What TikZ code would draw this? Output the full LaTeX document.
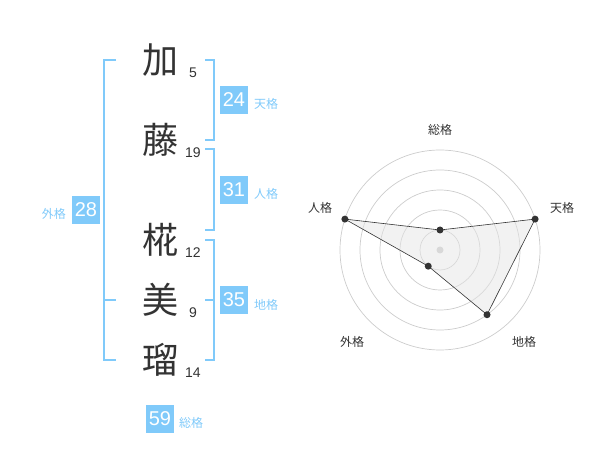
\documentclass[tikz,border=0pt]{standalone}
\usepackage{fontspec}
\setmainfont{Liberation Sans}
\newfontfamily\cjk{Noto Sans CJK JP}
\definecolor{kakublue}{RGB}{128,202,250}
\definecolor{inkgray}{RGB}{51,51,51}
\def\kakubracket(#1:#2:#3){\draw[bracket] (205,#1) -- (214,#1) -- (214,#2) -- (205,#2); \draw[bracket] (205,#3) -- (214,#3);}

\begin{document}
\begin{tikzpicture}[x=1pt,y=-1pt,
		kanji/.style={text=inkgray,font=\cjk\fontsize{36}{36}\selectfont,inner sep=0pt},
		strokes/.style={text=inkgray,font=\fontsize{14}{14}\selectfont,inner sep=0pt},
		kakubox/.style={fill=kakublue,text=white,minimum size=28pt,inner sep=0pt,font=\fontsize{20}{20}\selectfont},
		kakulabel/.style={text=kakublue,font=\cjk\fontsize{12}{12}\selectfont,inner sep=0pt},
		bracket/.style={draw=kakublue,line width=2pt},
		ring/.style={draw=black!20,line width=0.7pt},
		radarlabel/.style={text=inkgray,font=\cjk\fontsize{12}{12}\selectfont,inner sep=0pt},
		radardot/.style={circle,fill=inkgray,inner sep=0pt,minimum size=7pt}]
		%%%%% START %%%%%
		\useasboundingbox (0,0) rectangle (600,470);
		
		\node[kanji] (kka) at (160,60) {加};
		\node[strokes] (nka) at (193,73) {5};
		\node[kanji] (kto) at (160,140) {藤};
		\node[strokes] (nto) at (193,153) {19};
		\node[kanji] (kmo) at (160,240) {椛};
		\node[strokes] (nmo) at (193,253) {12};
		\node[kanji] (kmi) at (160,300) {美};
		\node[strokes] (nmi) at (193,313) {9};
		\node[kanji] (kru) at (160,360) {瑠};
		\node[strokes] (nru) at (193,373) {14};
		
		\draw[bracket] (205,60) -- (214,60) -- (214,140) -- (205,140);
		\draw[bracket] (205,149) -- (214,149) -- (214,230) -- (205,230);
		\kakubracket(240:360:300)
		\draw[bracket] (116,60) -- (104,60) -- (104,360) -- (116,360);
		\draw[bracket] (104,300) -- (116,300);
		
		\node[kakubox] (ten) at (234,100) {24};
		\node[kakulabel,anchor=west] (tenlab) at (254,104) {天格};
		\node[kakubox] (jin) at (234,190) {31};
		\node[kakulabel,anchor=west] (jinlab) at (254,194) {人格};
		\node[kakubox] (chi) at (234,300) {35};
		\node[kakulabel,anchor=west] (chilab) at (254,305) {地格};
		\node[kakubox] (gai) at (86,210) {28};
		\node[kakulabel,anchor=east] (gailab) at (66,214) {外格};
		\node[kakubox] (sou) at (160,419) {59};
		\node[kakulabel,anchor=west] (soulab) at (179,423) {総格};
		
		\begin{scope}[shift={(440,250)}]
			\draw[ring] (0,0) circle (20pt);
			\draw[ring] (0,0) circle (40pt);
			\draw[ring] (0,0) circle (60pt);
			\draw[ring] (0,0) circle (80pt);
			\draw[ring] (0,0) circle (100pt);
			\node[circle,fill=black!20,inner sep=0pt,minimum size=7pt] (hub) at (0,0) {};
			
			\coordinate (psou) at (90:20pt);
			\coordinate (pten) at (18:100pt);
			\coordinate (pchi) at (-54:80pt);
			\coordinate (pgai) at (-126:20pt);
			\coordinate (pjin) at (162:100pt);
			\draw[fill=black!10,fill opacity=0.5,draw=inkgray,line width=0.6pt] (psou) -- (pten) -- (pchi) -- (pgai) -- (pjin) -- cycle;
			
			\node[radardot] (dsou) at (psou) {};
			\node[radardot] (dten) at (pten) {};
			\node[radardot] (dchi) at (pchi) {};
			\node[radardot] (dgai) at (pgai) {};
			\node[radardot] (djin) at (pjin) {};
		\end{scope}
		
		\node[radarlabel] (rsou) at (440,130) {総格};
		\node[radarlabel] (rten) at (562,208) {天格};
		\node[radarlabel] (rjin) at (320,208) {人格};
		\node[radarlabel] (rgai) at (352,342) {外格};
		\node[radarlabel] (rchi) at (524,342) {地格};
		%%%%% END %%%%%
\end{tikzpicture}
\end{document}
